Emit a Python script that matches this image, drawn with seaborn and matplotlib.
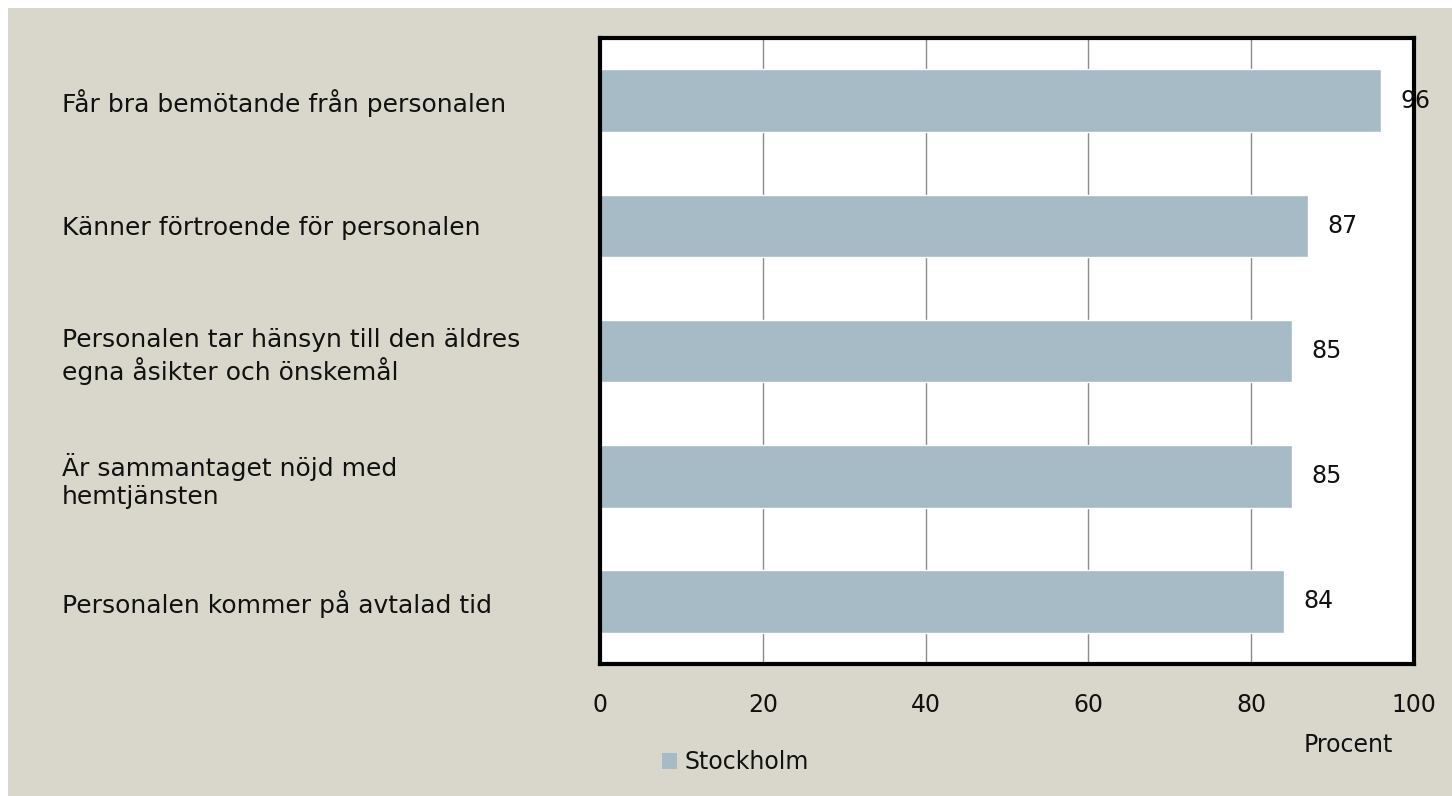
import matplotlib
matplotlib.use("Agg")
import matplotlib.pyplot as plt
from matplotlib.patches import Rectangle, Patch
import seaborn as sns
import pandas as pd

# data
categories = [
    "Får bra bemötande från personalen",
    "Känner förtroende för personalen",
    "Personalen tar hänsyn till den äldres\negna åsikter och önskemål",
    "Är sammantaget nöjd med\nhemtjänsten",
    "Personalen kommer på avtalad tid",
]
values = [96, 87, 85, 85, 84]
series_name = "Stockholm"
xticks = [0, 20, 40, 60, 80, 100]

df = pd.DataFrame({"kategori": categories, "procent": values})

bg = "#d9d7cb"
bar_color = "#a6bbc6"

sns.set_style("white")
plt.rcParams["font.family"] = ["DejaVu Sans"]

W, H = 1452, 796
fig = plt.figure(figsize=(W / 100, H / 100), dpi=100, facecolor="white")
fig.patches.append(Rectangle((8 / W, 0), 1 - 8 / W, 1 - 8 / H, transform=fig.transFigure,
                             facecolor=bg, edgecolor="none", zorder=-10))

ax = fig.add_axes([600 / W, 1 - 664 / H, (1414 - 600) / W, (664 - 38) / H])
ax.set_facecolor("white")

sns.barplot(data=df, x="procent", y="kategori", orient="h", color=bar_color,
            saturation=1, width=0.5, ax=ax, zorder=3)

ax.set_xlim(0, 100)
ax.set_xticks(xticks)
ax.xaxis.grid(True, color="#8c8c8c", linewidth=1)
ax.set_axisbelow(True)
for s in ax.spines.values():
    s.set_color("black")
    s.set_linewidth(3)
    s.set_zorder(10)

ax.bar_label(ax.containers[0], fmt="%d", padding=14, fontsize=17, color="#111111")

ax.tick_params(axis="x", length=0, pad=21, labelsize=17, labelcolor="#111111")
ax.tick_params(axis="y", length=0, pad=(600 - 62) * 0.72, labelsize=18, labelcolor="#111111")
for lab in ax.get_yticklabels():
    lab.set_ha("left")
    lab.set_multialignment("left")
    lab.set_linespacing(1.25)
ax.set_xlabel("")
ax.set_ylabel("")

fig.text(1348 / W, 1 - 745 / H, "Procent", ha="center", va="center", fontsize=17, color="#111111")
fig.legend(handles=[Patch(facecolor=bar_color, edgecolor="none", label=series_name)],
           loc="center left", bbox_to_anchor=(662 / W, 1 - 762 / H), frameon=False,
           fontsize=17, handlelength=0.65, handleheight=0.65, handletextpad=0.3,
           borderpad=0, borderaxespad=0, labelcolor="#111111")

fig.savefig("out.png", dpi=100, facecolor="white")
